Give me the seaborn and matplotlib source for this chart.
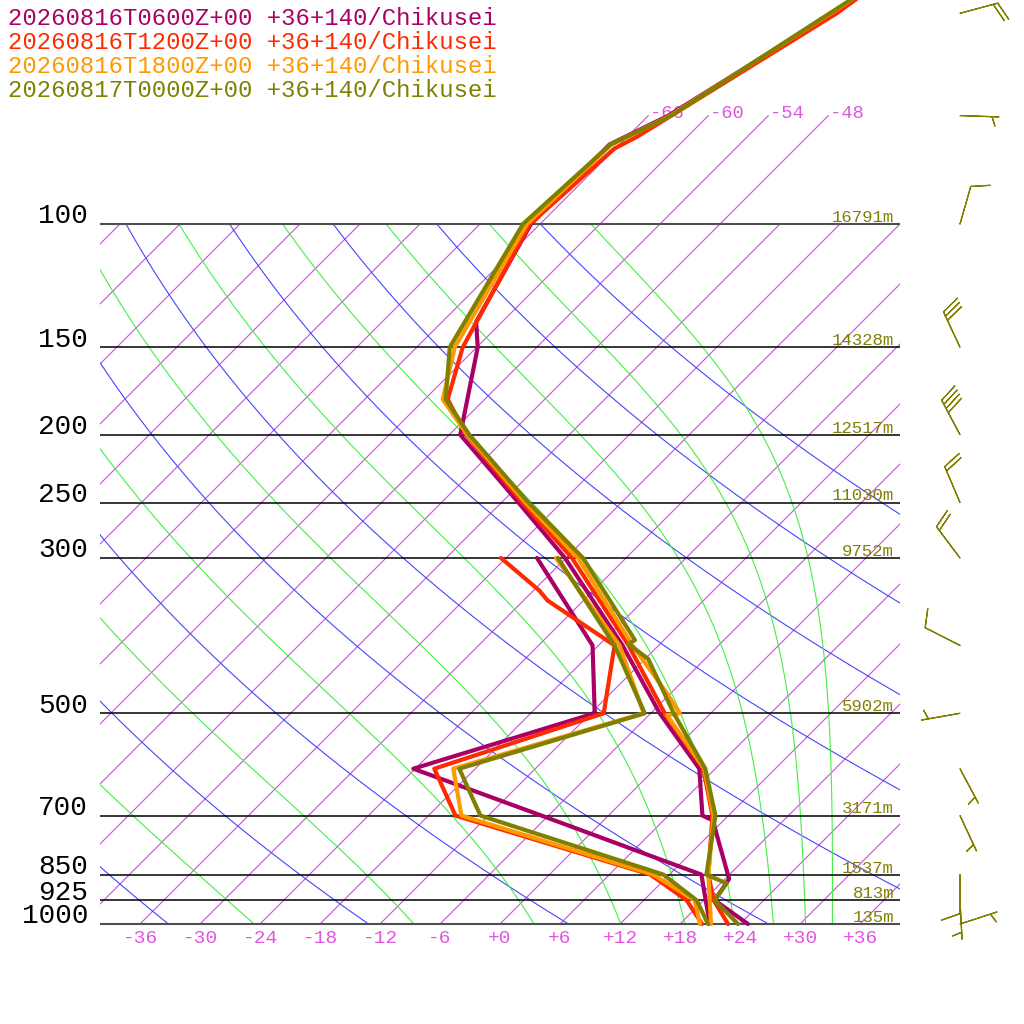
import numpy as np
import pandas as pd
import matplotlib
matplotlib.use('Agg')
import matplotlib.pyplot as plt
import seaborn as sns
from matplotlib.transforms import Bbox, TransformedBbox

# runs shown in the chart
runs = ['20260816T0600Z+00', '20260816T1200Z+00', '20260816T1800Z+00', '20260817T0000Z+00']
place = '+36+140/Chikusei'
run_colors = ['#aa0066', '#ff2a00', '#ff9900', '#808000']

# temperature profiles (hPa, degC)
p_t06 = [1000, 925, 862, 711, 700, 600, 500, 400, 300, 250, 200, 150, 138, 100, 77, 70, 50, 30]
t_t06 = [24.8, 19.1, 18.4, 10.9, 9.4, 4.4, -5.1, -15.6, -30.1, -40.3, -52.9, -59.9, -62.6, -66.9, -67.0, -64.0, -57.8, -49.5]
p_t12 = [1000, 925, 850, 700, 600, 500, 400, 300, 250, 200, 178, 150, 100, 78, 75, 50, 30]
t_t12 = [22.8, 19.0, 15.9, 10.4, 4.8, -4.6, -15.0, -29.4, -39.9, -52.3, -57.7, -61.4, -67.0, -66.1, -65.0, -57.4, -51.6]
p_t18 = [1000, 925, 850, 700, 600, 503, 500, 468, 400, 300, 250, 200, 178, 150, 100, 77, 70, 50, 30]
t_t18 = [21.1, 18.6, 15.9, 10.5, 4.9, -4.2, -3.1, -6.4, -14.6, -28.8, -39.6, -52.2, -58.2, -62.2, -67.3, -66.8, -63.8, -58.0, -49.8]
p_t00 = [1000, 925, 875, 850, 700, 600, 500, 418, 398, 393, 300, 250, 200, 178, 150, 100, 77, 70, 50, 30]
t_t00 = [23.8, 19.1, 18.6, 15.7, 10.7, 5.0, -3.7, -11.7, -15.2, -14.9, -28.3, -39.3, -52.0, -57.9, -62.7, -67.7, -66.9, -63.7, -58.1, -49.4]

# dew point profiles
p_d06 = [1000, 925, 850, 700, 600, 500, 400, 300]
d_d06 = [21.0, 18.2, 15.2, -6.7, -24.2, -11.6, -18.6, -32.9]
p_d12 = [1000, 925, 850, 700, 600, 500, 400, 345, 334, 300]
d_d12 = [20.2, 16.3, 10.1, -15.3, -22.1, -10.7, -16.4, -27.6, -29.4, -36.5]
p_d18 = [1000, 925, 850, 700, 600, 500, 400, 300]
d_d18 = [20.0, 17.1, 10.4, -14.7, -20.2, -6.7, -15.9, -31.0]
p_d00 = [1000, 925, 850, 700, 600, 500, 400, 300]
d_d00 = [20.8, 17.3, 11.4, -12.8, -19.6, -6.6, -16.4, -30.8]

# labelled pressure levels and heights of the last run
levels = [100, 150, 200, 250, 300, 500, 700, 850, 925, 1000]
heights = ['16791m', '14328m', '12517m', '11030m', '9752m', '5902m', '3171m', '1537m', '813m', '135m']

# winds of the last run
wind_p = [50, 70, 100, 150, 200, 250, 300, 400, 500, 600, 700, 850, 925, 1000]
wind_dir = [75, 92, 16, 335, 332, 337, 323, 297, 260, 152, 155, 180, 177, 72]
wind_kt = [20, 5, 10, 30, 40, 20, 20, 10, 5, 5, 5, 10, 5, 5]

# reference lines
strat_isotherms = [-66, -60, -54, -48]
dry_thetas = [240, 260, 280, 300, 320, 340, 360, 380, 400]
moist_thetas = [250, 270, 290, 310, 330, 350, 370, 390, 410]
t_ticks = [-36, -30, -24, -18, -12, -6, 0, 6, 12, 18, 24, 30, 36]

K = 70 / np.log(10)   # skew: degC shift per ln(p) unit


def skew(t, p):
    return np.asarray(t, float) + K * np.log(1000.0 / np.asarray(p, float))


def theta_e_sat(tc, p):
    # Bolton (1980), saturated
    es = 6.112 * np.exp(17.67 * tc / (tc + 243.5))
    r = 622.0 * es / (p - es)
    tk = tc + 273.15
    return tk * (1000.0 / p) ** (0.2854 * (1 - 0.00028 * r)) * np.exp((3.376 / tk - 0.00254) * r * (1 + 0.00081 * r))


sns.set_theme(style='white')
plt.rcParams['font.family'] = ['Liberation Mono', 'DejaVu Sans Mono']

fig = plt.figure(figsize=(10.24, 10.24), dpi=100)
ax = fig.add_axes([0, 0, 1, 1])
ax.set_yscale('log')
ax.set_xlim(-50, 52.4)
ax.set_ylim(1000 * np.exp(100 / (10 * K)), 1000 * np.exp(-924 / (10 * K)))
ax.axis('off')

clip = TransformedBbox(Bbox([[-40, 1000], [40, 60]]), ax.transData)
ISO = '#d744ee'
ISO_TXT = '#e055e0'
DRY = '#4545ff'
MOIST = '#44ee44'


def iso_label(text, x, color):
    # label sitting just above the 100 hPa line, cut at the chart edge
    if x < -42:
        return
    txt = ax.annotate(text, xy=(x, 100), xytext=(0, 4), textcoords='offset points',
                      ha='left', va='baseline', color=color, fontsize=12)
    txt.set_clip_on(True)
    txt.set_clip_box(clip)


# isotherms
for t in range(-120, 43, 6):
    ptop = 70 if t in strat_isotherms else 100
    ln, = ax.plot(skew([t, t], [1000, ptop]), [1000, ptop], color=ISO, lw=0.8, zorder=1)
    ln.set_clip_box(clip)
for t in strat_isotherms:
    ax.annotate(f'{t:d}', xy=(skew(t, 70), 70), xytext=(1, -1.5), textcoords='offset points',
                ha='left', va='baseline', color=ISO_TXT, fontsize=13.5)

# dry adiabats
p_grid = np.geomspace(1000, 100, 200)
for th in dry_thetas:
    tt = th * (p_grid / 1000.0) ** 0.2857 - 273.15
    ln, = ax.plot(skew(tt, p_grid), p_grid, color=DRY, lw=0.8, zorder=1)
    ln.set_clip_box(clip)
    iso_label(str(th), skew(tt[-1], 100), DRY)

# moist adiabats as lines of constant saturated theta-e
t_grid = np.linspace(-130, 50, 1801)
for te in moist_thetas:
    tt = []
    for p in p_grid:
        es = 6.112 * np.exp(17.67 * t_grid / (t_grid + 243.5))
        ok = es < 0.2 * p
        tt.append(np.interp(te, theta_e_sat(t_grid[ok], p), t_grid[ok]))
    tt = np.array(tt)
    ln, = ax.plot(skew(tt, p_grid), p_grid, color=MOIST, lw=0.8, zorder=1)
    ln.set_clip_box(clip)
    iso_label(str(te), skew(tt[-1], 100), MOIST)

# isobars (top and bottom ones drawn a bit heavier and grey), labels
inner = [p for p in levels if p not in (100, 1000)]
ax.hlines(inner, -40, 40, colors='black', lw=1.1, zorder=2)
ax.hlines([100, 1000], -40, 40, colors='#505050', lw=1.5, zorder=2)
for p, h in zip(levels, heights):
    ax.annotate(str(p), xy=(-41.2, p), xytext=(0, 0.5), textcoords='offset points',
                ha='right', va='baseline', color='black', fontsize=20)
    ax.annotate(h, xy=(39.4, p), xytext=(0, 1.5), textcoords='offset points',
                ha='right', va='baseline', color='#808000', fontsize=12.5)

for t in t_ticks:
    ax.annotate(f'{t:+d}', xy=(t, 1000), xytext=(0, -4.5), textcoords='offset points',
                ha='center', va='top', color=ISO_TXT, fontsize=14)

# profiles
profiles = [(p_t06, t_t06, p_d06, d_d06), (p_t12, t_t12, p_d12, d_d12),
            (p_t18, t_t18, p_d18, d_d18), (p_t00, t_t00, p_d00, d_d00)]
for (pt, tt, pd_, dd), c in zip(profiles, run_colors):
    for pp, vv in ((pt, tt), (pd_, dd)):
        df = pd.DataFrame({'x': skew(vv, pp), 'p': pp})
        sns.lineplot(data=df, x='x', y='p', sort=False, estimator=None, color=c,
                     lw=3, ax=ax, legend=False, zorder=3)
ax.axis('off')

# wind barbs (staff ~39 px)
rad = np.deg2rad(wind_dir)
u = -np.array(wind_kt) * np.sin(rad)
v = -np.array(wind_kt) * np.cos(rad)
ax.barbs(np.full(len(wind_p), 46.0), wind_p, u, v, length=7.5, lw=0.9, color='#808000',
         sizes=dict(height=0.47, width=0.33, spacing=0.12, emptybarb=0.0), zorder=4)

# header lines
for i, (r, c) in enumerate(zip(runs, run_colors)):
    fig.text(8 / 1024, 1 - (25 + 24 * i) / 1024, f'{r} {place}', color=c,
             fontsize=17.2, ha='left', va='baseline')

fig.savefig('out.png', dpi=100, facecolor='white')
